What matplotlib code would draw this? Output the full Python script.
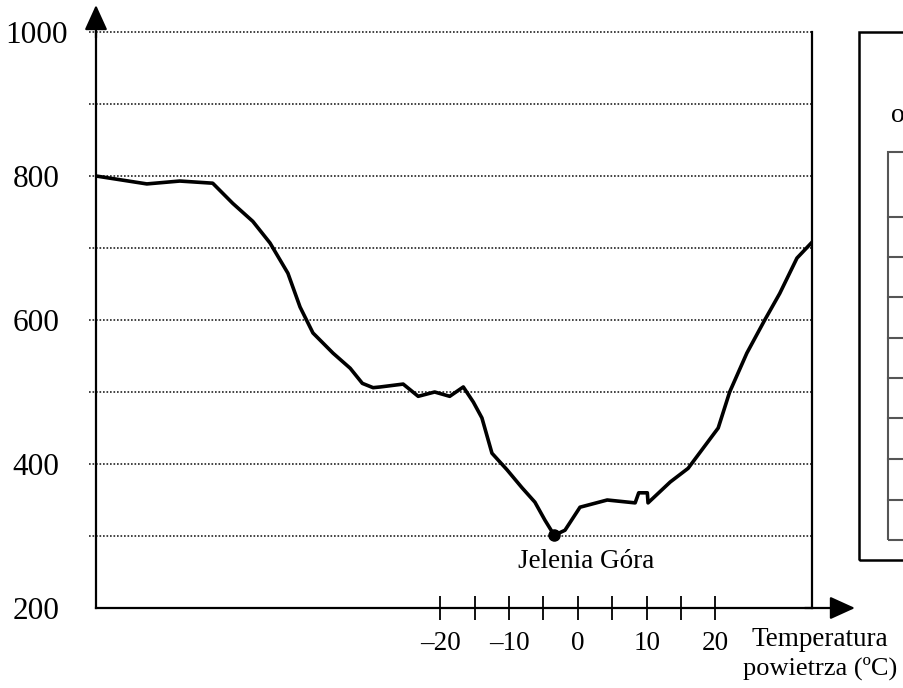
import matplotlib
matplotlib.use("Agg")
import matplotlib.pyplot as plt
from matplotlib.patches import Rectangle
from matplotlib.lines import Line2D

# ---------------- data ----------------
profile_distance = [0, 7.1, 11.7, 16.3, 19.1, 21.9, 24.3, 26.8, 28.5, 30.3, 33.1, 35.5,
                    37.2, 38.7, 39.7, 42.9, 45.0, 47.3, 49.4, 51.3, 52.7, 53.9, 55.3,
                    57.4, 59.5, 61.3, 62.7, 64.0, 65.5, 67.6, 71.4, 75.3, 75.8, 77.0,
                    77.1, 80.2, 82.7, 86.9, 88.5, 90.9, 93.4, 95.5, 97.9, 100]
altitude = [800, 789, 793, 790, 762, 737, 707, 665, 618, 582, 554, 533,
            512, 506, 507, 511, 494, 500, 494, 507, 486, 464, 415,
            392, 367, 347, 322, 301, 308, 340, 350, 346, 360, 360,
            346, 375, 394, 450, 500, 554, 600, 637, 686, 708]

city_name = "Jelenia Góra"
city_distance = 64.0
city_altitude = 301

y_ticks = [200, 400, 600, 800, 1000]
grid_levels = [300, 400, 500, 600, 700, 800, 900, 1000]

temp_major = [-20, -10, 0, 10, 20]
temp_major_labels = ["–20", "–10", "0", "10", "20"]
temp_minor = [-15, -5, 5, 15]
temp_title_1 = "Temperatura"
temp_title_2 = "powietrza (ºC)"

# ---------------- layout ----------------
W, H = 904, 688
fig = plt.figure(figsize=(W / 100, H / 100), dpi=100)
plt.rcParams['font.family'] = ['Liberation Serif', 'DejaVu Serif']
FS = 19.5

ax_l, ax_r, ax_t, ax_b = 96, 812, 32, 608
ax = fig.add_axes([ax_l / W, 1 - ax_b / H, (ax_r - ax_l) / W, (ax_b - ax_t) / H])
ax.set_xlim(0, 100)
ax.set_ylim(200, 1000)

for s in ["left", "bottom", "right"]:
    ax.spines[s].set_linewidth(1.6)
    ax.spines[s].set_color("black")
ax.spines["top"].set_visible(False)

# grid (dotted)
ax.hlines(grid_levels, xmin=-1.0, xmax=100, linestyles=(0, (1, 1.1)),
          linewidth=1.2, color="#222222", clip_on=False, zorder=1)

# profile line
ax.plot(profile_distance, altitude, color="black", linewidth=2.6,
        solid_joinstyle="round", zorder=3)
ax.plot([city_distance], [city_altitude], marker="o", markersize=8,
        color="black", zorder=4)
ax.text(city_distance + 4.4, city_altitude - 37, city_name, ha="center",
        va="center", fontsize=FS)

# y ticks
ax.set_yticks(y_ticks)
ax.set_yticklabels([str(v) for v in y_ticks], fontsize=22.5)
ax.tick_params(axis="y", length=0, pad=43)
for lbl in ax.get_yticklabels():
    lbl.set_horizontalalignment("center")
ax.set_xticks([])

# temperature axis
TEMP_ZERO_AT = 67.3
TEMP_SCALE = 0.961
sec = ax.secondary_xaxis("bottom",
                         functions=(lambda d: (d - TEMP_ZERO_AT) / TEMP_SCALE,
                                    lambda t: t * TEMP_SCALE + TEMP_ZERO_AT))
sec.spines["bottom"].set_visible(False)
sec.set_xticks(temp_major)
sec.set_xticklabels(temp_major_labels, fontsize=FS)
sec.set_xticks(temp_minor, minor=True)
sec.tick_params(axis="x", which="both", direction="inout", length=17,
                width=1.3, pad=8, color="black")

# axis arrows
ax.annotate("", xy=(0, 1 + 27 / (ax_b - ax_t)), xytext=(0, 0.99),
            xycoords="axes fraction",
            arrowprops=dict(arrowstyle="-|>,head_length=1.1,head_width=0.5",
                            mutation_scale=14, lw=1.6, color="black",
                            shrinkA=0, shrinkB=0))
ax.annotate("", xy=(1 + 43 / (ax_r - ax_l), 0), xytext=(0.99, 0),
            xycoords="axes fraction",
            arrowprops=dict(arrowstyle="-|>,head_length=1.1,head_width=0.5",
                            mutation_scale=14, lw=1.6, color="black",
                            shrinkA=0, shrinkB=0))

fig.text(820 / W, 1 - 640 / H, temp_title_1, ha="center", va="center", fontsize=19.5)
fig.text(820 / W, 1 - 668 / H, temp_title_2, ha="center", va="center", fontsize=19)

# right (cut) panel
def fx(px):
    return px / W

def fy(py):
    return 1 - py / H

fig.add_artist(Rectangle((fx(859), fy(560)), fx(960) - fx(859), fy(32) - fy(560),
                         transform=fig.transFigure, fill=False, lw=1.8,
                         edgecolor="black"))
fig.add_artist(Rectangle((fx(888), fy(540)), fx(960) - fx(888), fy(152) - fy(540),
                         transform=fig.transFigure, fill=False, lw=1.5,
                         edgecolor="#555555"))
for ry in [217, 257, 297, 338, 378, 418, 459, 500]:
    fig.add_artist(Line2D([fx(888), fx(904)], [fy(ry), fy(ry)],
                          transform=fig.transFigure, lw=1.5, color="#555555"))
fig.text(891 / W, 1 - 115 / H, "o", ha="left", va="center", fontsize=20)

fig.savefig("out.png", dpi=100)
